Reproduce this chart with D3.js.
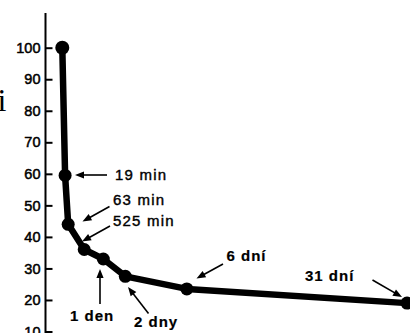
<!DOCTYPE html>
<html>
<head>
<meta charset="utf-8">
<script src="https://cdn.jsdelivr.net/npm/d3@7"></script>
<style>
  body { margin: 0; background: #fff; }
  text { font-family: "Liberation Sans", Arial, sans-serif; fill: #000; }
</style>
</head>
<body>
<div id="chart"></div>
<script>
// time since learning, in days
var times = [0, 19 / 1440, 63 / 1440, 525 / 1440, 1, 2, 6, 31];
// percent still remembered
var retained = [100, 59.5, 44, 36, 33, 27.5, 23.5, 19];
// labels next to the points
var timeLabels = ["", "19 min", "63 min", "525 min", "1 den", "2 dny", "6 dní", "31 dní"];
var yTicks = [10, 20, 30, 40, 50, 60, 70, 80, 90, 100];

var opt = {
  width: 410,
  height: 333,
  axisX: 45.5,
  axisTop: 13
};

// where each label and its arrow sit (text x, text baseline, arrow tail, arrow head, bold)
var noteLayout = [
  null,
  { tx: 115, ty: 179.5, x1: 107, y1: 175, x2: 75, y2: 175, bold: false },
  { tx: 113, ty: 204.5, x1: 109.5, y1: 206.5, x2: 82.5, y2: 221.5, bold: false },
  { tx: 113, ty: 225.5, x1: 110, y1: 226, x2: 82, y2: 241.5, bold: false },
  { tx: 70, ty: 320.5, x1: 100, y1: 304, x2: 100, y2: 269, bold: true },
  { tx: 134, ty: 327, x1: 148.5, y1: 313.5, x2: 128, y2: 287, bold: true },
  { tx: 226.5, ty: 260.5, x1: 223, y1: 264, x2: 196.5, y2: 278.5, bold: true },
  { tx: 305, ty: 281, x1: 372.5, y1: 280, x2: 402, y2: 297, bold: true }
];

var svg = d3.select("#chart").append("svg")
  .attr("width", opt.width)
  .attr("height", opt.height)
  .style("display", "block");

svg.append("rect")
  .attr("width", opt.width)
  .attr("height", opt.height)
  .attr("fill", "#fff");

// the time axis of the original is hand drawn, a power scale follows it closely
var xScale = d3.scalePow().exponent(0.62)
  .domain([0, 31])
  .range([62.3, 407]);

var yScale = d3.scaleLinear()
  .domain([10, 100])
  .range([331.5, 47.7]);

// cut off word from the page on the left
svg.append("text")
  .attr("x", -2.5)
  .attr("y", 111)
  .style("font-family", "'Liberation Serif', 'Times New Roman', serif")
  .style("font-size", "32px")
  .text("i");

// y axis, ticks point inward, labels on the left
var yAxis = svg.append("g")
  .attr("transform", "translate(" + opt.axisX + ",0)")
  .call(d3.axisLeft(yScale)
    .tickValues(yTicks)
    .tickSizeInner(-7)
    .tickSizeOuter(0)
    .tickPadding(5));
yAxis.select(".domain").remove();
yAxis.selectAll(".tick line")
  .attr("stroke", "#000")
  .attr("stroke-width", 2);
yAxis.selectAll(".tick text")
  .style("font-family", "'Liberation Sans', Arial, sans-serif")
  .style("font-size", "14.5px")
  .style("fill", "#000")
  .style("stroke", "#000")
  .style("stroke-width", "0.5px");

svg.append("line")
  .attr("x1", opt.axisX)
  .attr("x2", opt.axisX)
  .attr("y1", opt.axisTop)
  .attr("y2", opt.height)
  .attr("stroke", "#000")
  .attr("stroke-width", 2);

var points = times.map(function(t, i) {
  return { t: t, v: retained[i], label: timeLabels[i] };
});

var line = d3.line()
  .x(function(d) { return xScale(d.t); })
  .y(function(d) { return yScale(d.v); });

svg.append("path")
  .datum(points)
  .attr("d", line)
  .attr("fill", "none")
  .attr("stroke", "#000")
  .attr("stroke-width", 6.5)
  .attr("stroke-linejoin", "round")
  .attr("stroke-linecap", "round");

svg.selectAll("circle.pt")
  .data(points).enter()
  .append("circle")
  .attr("class", "pt")
  .attr("cx", function(d) { return xScale(d.t); })
  .attr("cy", function(d) { return yScale(d.v); })
  .attr("r", function(d, i) { return i === 0 ? 7 : 6.5; })
  .attr("fill", "#000");

// annotations with arrows
var notes = points.map(function(d, i) {
  return noteLayout[i] ? Object.assign({ label: d.label }, noteLayout[i]) : null;
}).filter(Boolean);

var headLen = 9, headHalf = 3.6;

var g = svg.selectAll("g.note")
  .data(notes).enter()
  .append("g")
  .attr("class", "note");

g.append("line")
  .attr("x1", function(d) { return d.x1; })
  .attr("y1", function(d) { return d.y1; })
  .attr("x2", function(d) {
    var a = Math.atan2(d.y2 - d.y1, d.x2 - d.x1);
    return d.x2 - Math.cos(a) * headLen * 0.7;
  })
  .attr("y2", function(d) {
    var a = Math.atan2(d.y2 - d.y1, d.x2 - d.x1);
    return d.y2 - Math.sin(a) * headLen * 0.7;
  })
  .attr("stroke", "#000")
  .attr("stroke-width", 1.6);

g.append("path")
  .attr("d", function(d) {
    var a = Math.atan2(d.y2 - d.y1, d.x2 - d.x1);
    var bx = d.x2 - Math.cos(a) * headLen, by = d.y2 - Math.sin(a) * headLen;
    var nx = -Math.sin(a) * headHalf, ny = Math.cos(a) * headHalf;
    return "M" + d.x2 + "," + d.y2 +
      "L" + (bx + nx) + "," + (by + ny) +
      "L" + (bx - nx) + "," + (by - ny) + "Z";
  })
  .attr("fill", "#000");

g.append("text")
  .attr("x", function(d) { return d.tx; })
  .attr("y", function(d) { return d.ty; })
  .style("font-size", "15px")
  .style("font-weight", function(d) { return d.bold ? "bold" : "normal"; })
  .style("letter-spacing", function(d) { return d.bold ? "1px" : "1.2px"; })
  .style("stroke", "#000")
  .style("stroke-width", function(d) { return d.bold ? "0.2px" : "0.4px"; })
  .text(function(d) { return d.label; });
</script>
</body>
</html>
